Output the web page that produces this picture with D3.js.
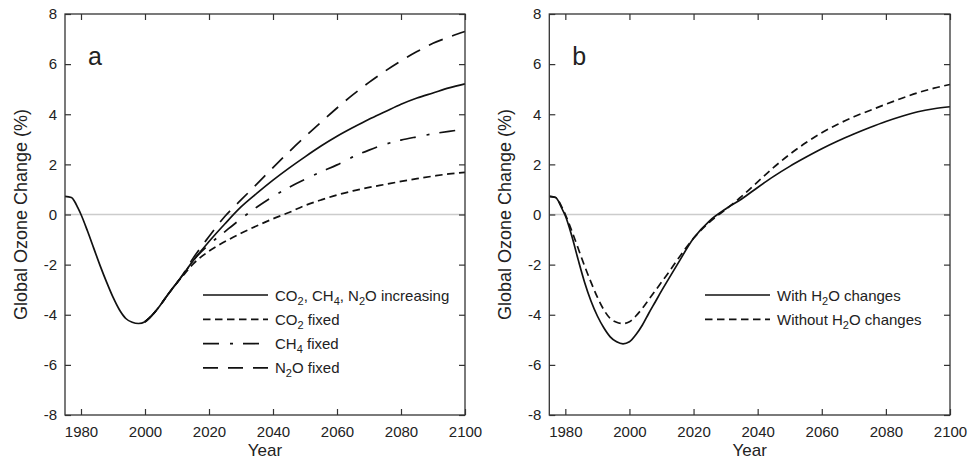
<!DOCTYPE html>
<html>
<head>
<meta charset="utf-8">
<script src="https://cdn.jsdelivr.net/npm/d3@7"></script>
<style>
  body { margin: 0; background: #fff; }
  svg { display: block; }
  text { font-family: "Liberation Sans", Arial, sans-serif; fill: #222; }
</style>
</head>
<body>
<div id="chart"></div>
<script>
// years shared by every series
var years = [1975, 1977, 1978, 1979, 1980, 1982, 1984, 1986, 1988, 1990, 1992, 1994, 1996, 1998,
             2000, 2002, 2004, 2006, 2008, 2010, 2012, 2015, 2020, 2025, 2030, 2035, 2040, 2045,
             2050, 2055, 2060, 2065, 2070, 2075, 2080, 2085, 2090, 2095, 2100];

// panel a
var allIncreasing = [0.72, 0.68, 0.52, 0.27, 0.0, -0.65, -1.35, -2.05, -2.7, -3.3, -3.8, -4.15, -4.3, -4.35,
                     -4.28, -4.05, -3.75, -3.4, -3.05, -2.72, -2.38, -1.85, -1.08, -0.37, 0.3, 0.85, 1.37, 1.85,
                     2.3, 2.73, 3.12, 3.47, 3.8, 4.1, 4.4, 4.65, 4.85, 5.05, 5.21];
var co2Fixed = [null, null, null, null, null, null, null, null, null, null, null, null, null, null,
                -4.28, -4.05, -3.75, -3.4, -3.05, -2.72, -2.42, -1.98, -1.46, -1.08, -0.75, -0.45, -0.17, 0.08,
                0.36, 0.58, 0.78, 0.94, 1.08, 1.2, 1.32, 1.43, 1.53, 1.62, 1.68];
var ch4Fixed = [null, null, null, null, null, null, null, null, null, null, null, null, null, null,
                -4.28, -4.05, -3.75, -3.4, -3.05, -2.72, -2.4, -1.85, -1.2, -0.68, -0.17, 0.3, 0.72, 1.08,
                1.4, 1.7, 1.98, 2.3, 2.57, 2.8, 2.97, 3.1, 3.22, 3.32, 3.4];
var n2oFixed = [null, null, null, null, null, null, null, null, null, null, null, null, null, null,
                -4.28, -4.05, -3.75, -3.4, -3.05, -2.72, -2.36, -1.75, -0.88, -0.07, 0.58, 1.22, 1.87, 2.5,
                3.1, 3.68, 4.25, 4.78, 5.27, 5.72, 6.13, 6.5, 6.83, 7.08, 7.3];

// panel b
var withH2O = [0.72, 0.68, 0.5, 0.22, -0.05, -0.85, -1.8, -2.7, -3.45, -4.05, -4.52, -4.88, -5.08, -5.16,
               -5.08, -4.8, -4.42, -3.95, -3.5, -3.05, -2.62, -1.98, -0.95, -0.25, 0.22, 0.62, 1.08, 1.52,
               1.92, 2.28, 2.62, 2.93, 3.21, 3.47, 3.71, 3.92, 4.1, 4.22, 4.3];
var withoutH2O = [0.72, 0.68, 0.52, 0.27, 0.0, -0.65, -1.35, -2.05, -2.7, -3.3, -3.8, -4.15, -4.3, -4.35,
                  -4.28, -4.05, -3.75, -3.4, -3.05, -2.7, -2.35, -1.8, -0.95, -0.3, 0.2, 0.72, 1.3, 1.88,
                  2.4, 2.86, 3.26, 3.6, 3.9, 4.15, 4.4, 4.64, 4.86, 5.04, 5.19];

var xTicks = [1980, 2000, 2020, 2040, 2060, 2080, 2100];
var yTicks = [-8, -6, -4, -2, 0, 2, 4, 6, 8];

// legend labels, _n means subscript n
var labelsA = ["CO_2, CH_4, N_2O increasing", "CO_2 fixed", "CH_4 fixed", "N_2O fixed"];
var labelsB = ["With H_2O changes", "Without H_2O changes"];

var svg = d3.select("#chart")
  .append("svg")
  .attr("width", 979)
  .attr("height", 461);

var plotTop = 14, plotBottom = 415;

function subText(sel, str) {
  var parts = str.split(/_(\d)/);
  parts.forEach(function(p, i) {
    if (p === "") return;
    if (i % 2 === 1) {
      sel.append("tspan").attr("dy", 4).style("font-size", "11px").text(p);
    } else {
      var t = sel.append("tspan").text(p);
      if (i > 0) t.attr("dy", -4);
    }
  });
}

function drawPanel(left, right, letter, series, labels, legX) {
  var x = d3.scaleLinear().domain([1975, 2100]).range([left, right]);
  var y = d3.scaleLinear().domain([-8, 8]).range([plotBottom, plotTop]);
  var g = svg.append("g");

  // zero line
  g.append("line")
    .attr("x1", x(1975)).attr("x2", x(2100))
    .attr("y1", y(0)).attr("y2", y(0))
    .attr("stroke", "#cccccc").attr("stroke-width", 1.5);

  var fmt = function(d) { return String(d); };
  var axes = [
    [d3.axisBottom(x).tickValues(xTicks).tickFormat(fmt).tickPadding(11), "translate(0," + plotBottom + ")"],
    [d3.axisTop(x).tickValues(xTicks).tickFormat(""), "translate(0," + plotTop + ")"],
    [d3.axisLeft(y).tickValues(yTicks).tickFormat(fmt).tickPadding(8), "translate(" + left + ",0)"],
    [d3.axisRight(y).tickValues(yTicks).tickFormat(""), "translate(" + right + ",0)"]
  ];
  axes.forEach(function(a) {
    var ax = g.append("g")
      .attr("transform", a[1])
      .call(a[0].tickSizeInner(-6).tickSizeOuter(0));
    ax.select(".domain").remove();
    ax.selectAll("line").attr("stroke", "#333").attr("stroke-width", 1.2);
    ax.selectAll("text").style("font-size", "15px").attr("font-family", null).attr("fill", "#222");
  });

  var line = d3.line()
    .defined(function(d) { return d[1] !== null; })
    .x(function(d) { return x(d[0]); })
    .y(function(d) { return y(d[1]); })
    .curve(d3.curveMonotoneX);

  series.forEach(function(s) {
    g.append("path")
      .datum(years.map(function(yr, i) { return [yr, s.values[i]]; }))
      .attr("d", line)
      .attr("fill", "none")
      .attr("stroke", "#111")
      .attr("stroke-width", 1.7)
      .attr("stroke-dasharray", s.dash);
  });

  // frame
  g.append("rect")
    .attr("x", left).attr("y", plotTop)
    .attr("width", right - left).attr("height", plotBottom - plotTop)
    .attr("fill", "none").attr("stroke", "#333").attr("stroke-width", 1.3);

  // legend
  labels.forEach(function(lab, i) {
    var ly = 295 + i * 24.3;
    g.append("line")
      .attr("x1", legX).attr("x2", legX + 65)
      .attr("y1", ly).attr("y2", ly)
      .attr("stroke", "#111").attr("stroke-width", 1.7)
      .attr("stroke-dasharray", series[i].dash);
    var t = g.append("text")
      .attr("x", legX + 72).attr("y", ly + 5.5)
      .style("font-size", "15px");
    subText(t, lab);
  });

  g.append("text")
    .attr("x", left + 23).attr("y", 65)
    .style("font-size", "25px")
    .text(letter);

  g.append("text")
    .attr("x", (left + right) / 2).attr("y", 456)
    .attr("text-anchor", "middle")
    .style("font-size", "17px")
    .text("Year");

  g.append("text")
    .attr("transform", "translate(" + (left - 38) + "," + ((plotTop + plotBottom) / 2) + ") rotate(-90)")
    .attr("text-anchor", "middle")
    .style("font-size", "18px")
    .text("Global Ozone Change (%)");
}

drawPanel(65, 465, "a", [
  {values: allIncreasing, dash: null},
  {values: co2Fixed, dash: "7.5,4.5"},
  {values: ch4Fixed, dash: "16,11,3,10"},
  {values: n2oFixed, dash: "15,10"}
], labelsA, 203);

drawPanel(549.3, 950, "b", [
  {values: withH2O, dash: null},
  {values: withoutH2O, dash: "7.5,4.5"}
], labelsB, 705);
</script>
</body>
</html>
